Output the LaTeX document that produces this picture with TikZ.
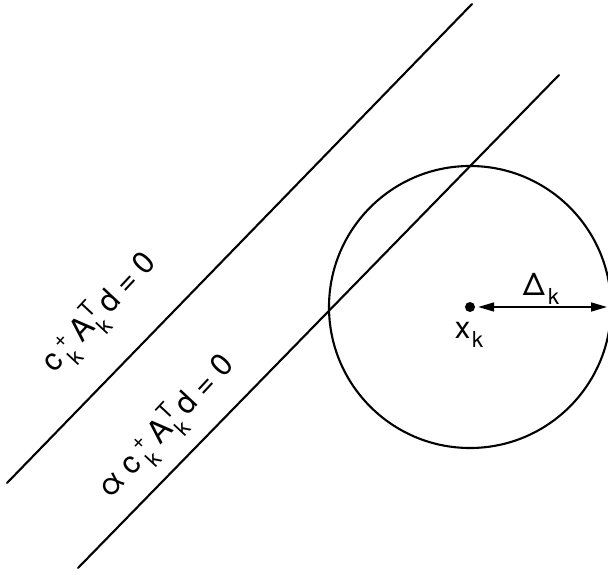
\documentclass[tikz,border=0pt]{standalone}
\usepackage{fontspec}
\setmainfont{TeX Gyre Heros}
\usetikzlibrary{arrows.meta}
\tikzset{
  thinline/.style={line width=2.1pt, line cap=round},
  eqlabel/.style={font=\fontsize{31}{36}\selectfont, inner sep=0pt, rotate=47, anchor=center},
  plainlabel/.style={font=\fontsize{31}{36}\selectfont, inner sep=0pt},
  dotnode/.style={circle, fill=black, inner sep=0pt, minimum size=10pt},
  radarrow/.style={line width=1.7pt, {Triangle[length=16pt,width=9pt]}-{Triangle[length=16pt,width=9pt]}}
}
\newcommand{\scr}[1]{{\fontsize{22}{22}\selectfont #1}}
\newcommand{\lowsc}[1]{\raisebox{-0.3em}{\scr{#1}}}
\newcommand{\stk}[2]{\rlap{\raisebox{0.4em}{\scr{#1}}}\raisebox{-0.38em}{\scr{#2}}}
\newcommand{\gp}[1]{\hspace{#1pt}}
\begin{document}
\begin{tikzpicture}[x=1pt,y=-1pt]
\useasboundingbox (0,0) rectangle (608,575);
\clip (0,0) rectangle (608,575);
% lines
\coordinate (l1a) at (7,483);
\coordinate (l1b) at (472,4);
\coordinate (l2a) at (78,568);
\coordinate (l2b) at (559,75);
\draw[thinline] (l1a) -- (l1b);
\draw[thinline] (l2a) -- (l2b);
% circle
\coordinate (ctr) at (470,307);
\draw[line width=2.1pt] (ctr) circle[radius=141];
% centre point and radius arrow
\node[dotnode] (xk) at (ctr) {};
\coordinate (redge) at (607,307);
\draw[radarrow] ([xshift=3pt]xk.east) -- (redge);
\node[plainlabel] (delta) at (541,289) {Δ\hspace{0.1em}\lowsc{k}};
\node[plainlabel] (xlab) at (469,335) {x\hspace{0.06em}\lowsc{k}};
% rotated labels
\node[eqlabel] (eq1) at (100,313) {c\gp{6}\stk{+}{k}\gp{9}A\gp{1}\stk{T}{k}\gp{7}d\gp{8}=\gp{9}0};
\node[eqlabel] (eq2) at (167,427) {α\gp{8}c\gp{6}\stk{+}{k}\gp{9}A\gp{1}\stk{T}{k}\gp{7}d\gp{8}=\gp{9}0};
\end{tikzpicture}
\end{document}
